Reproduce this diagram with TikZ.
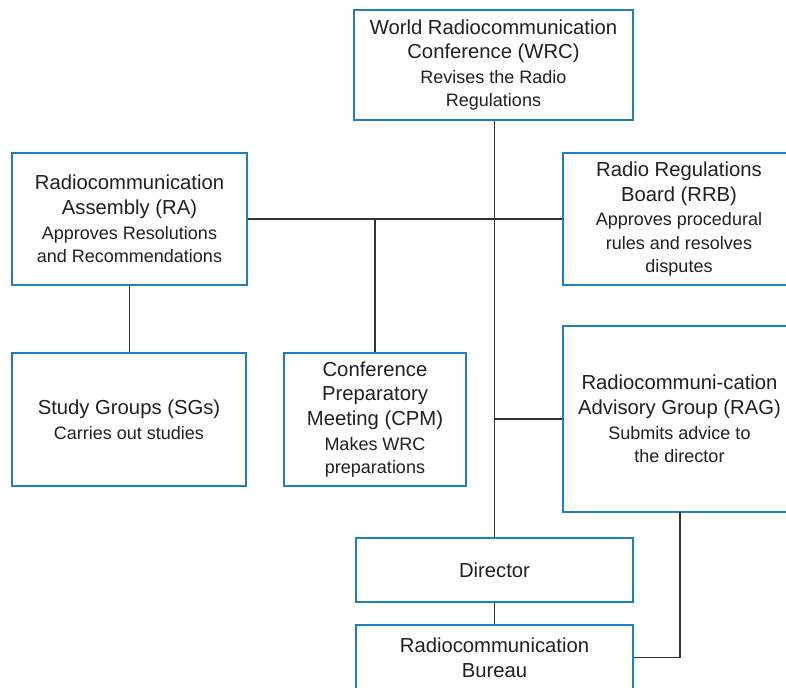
\documentclass[tikz,border=0pt]{standalone}
\usepackage{fontspec}
\setmainfont{Liberation Sans}
\definecolor{boxblue}{HTML}{1F7FC6}
\definecolor{linegray}{HTML}{333333}
\definecolor{txtgray}{HTML}{231F20}
\newcommand{\ttlf}{\fontsize{15.2}{19.5}\selectfont}
\newcommand{\subf}{\fontsize{13.5}{17.5}\selectfont}
\begin{document}
\begin{tikzpicture}[x=0.75pt,y=-0.75pt,
  box/.style={draw=boxblue,line width=1.1pt,fill=white,align=center,text=txtgray,inner sep=0pt,font=\subf},
  wh/.style 2 args={minimum width=#1*0.75pt,minimum height=#2*0.75pt},
  conn/.style={draw=linegray,line width=1.1pt}]
\useasboundingbox (0,0) rectangle (786,688);
\node[box,wh={279}{110}] (WRC) at (493.5,65) {{\ttlf World Radiocommunication}\\[1pt]{\ttlf Conference (WRC)}\\[1pt]Revises the Radio\\Regulations};
\node[box,wh={235}{132}] (RA) at (129.5,219) {{\ttlf Radiocommunication}\\[1pt]{\ttlf Assembly (RA)}\\[1pt]Approves Resolutions\\and Recommendations};
\node[box,wh={232}{132}] (RRB) at (679,219) {{\ttlf Radio Regulations}\\[1pt]{\ttlf Board (RRB)}\\[1pt]Approves procedural\\rules and resolves\\disputes};
\node[box,wh={234}{133}] (SG) at (129,419.5) {{\ttlf Study Groups (SGs)}\\[1pt]Carries out studies};
\node[box,wh={182}{133}] (CPM) at (375,419.5) {{\ttlf Conference}\\[1pt]{\ttlf Preparatory}\\[1pt]{\ttlf Meeting (CPM)}\\[1pt]Makes WRC\\preparations};
\node[box,wh={233}{186}] (RAG) at (679.5,419) {{\ttlf Radiocommuni-cation}\\[1pt]{\ttlf Advisory Group (RAG)}\\[1pt]Submits advice to\\the director};
\node[box,wh={277}{64}] (Dir) at (494.5,570) {{\ttlf Director}};
\node[box,wh={277}{65}] (Bur) at (494.5,657.5) {{\ttlf Radiocommunication}\\[1pt]{\ttlf Bureau}};
\coordinate (k) at (680,512);
\draw[conn] (WRC.south -| Dir.north) -- (Dir.north);
\draw[conn] (RA.east) -- (RRB.west);
\draw[conn] (CPM.north) -- (CPM.north |- RA.east);
\draw[conn] (RA.south) -- (RA.south |- SG.north);
\draw[conn] (RAG.west) -- (RAG.west -| Dir.north);
\draw[conn] (Dir.south) -- (Bur.north);
\draw[conn] (k) |- (Bur.east);
\end{tikzpicture}
\end{document}
